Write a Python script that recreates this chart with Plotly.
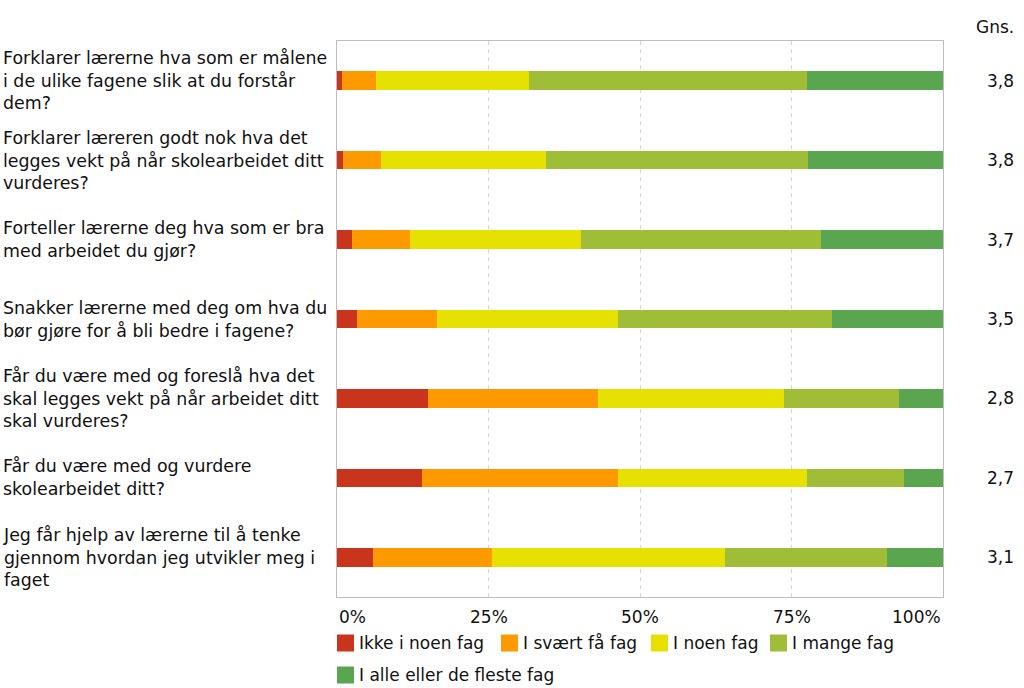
import plotly.graph_objects as go

questions = [
    "Forklarer lærerne hva som er målene<br>i de ulike fagene slik at du forstår<br>dem?",
    "Forklarer læreren godt nok hva det<br>legges vekt på når skolearbeidet ditt<br>vurderes?",
    "Forteller lærerne deg hva som er bra<br>med arbeidet du gjør?",
    "Snakker lærerne med deg om hva du<br>bør gjøre for å bli bedre i fagene?",
    "Får du være med og foreslå hva det<br>skal legges vekt på når arbeidet ditt<br>skal vurderes?",
    "Får du være med og vurdere<br>skolearbeidet ditt?",
    "Jeg får hjelp av lærerne til å tenke<br>gjennom hvordan jeg utvikler meg i<br>faget",
]
cat_ids = ["q1", "q2", "q3", "q4", "q5", "q6", "q7"]

ikke_i_noen = [0.8, 1.0, 2.4, 3.3, 15.0, 14.1, 6.0]
svaert_faa = [5.6, 6.3, 9.6, 13.2, 28.0, 32.3, 19.6]
i_noen = [25.3, 27.2, 28.3, 29.9, 30.8, 31.2, 38.4]
i_mange = [45.9, 43.3, 39.6, 35.2, 18.9, 16.0, 26.7]
i_alle = [22.4, 22.2, 20.1, 18.4, 7.3, 6.4, 9.3]
gns = ["3,8", "3,8", "3,7", "3,5", "2,8", "2,7", "3,1"]

series_names = ["Ikke i noen fag", "I svært få fag", "I noen fag", "I mange fag",
                "I alle eller de fleste fag"]
series_values = [ikke_i_noen, svaert_faa, i_noen, i_mange, i_alle]
series_colors = ["#C8341C", "#FF9900", "#E6E100", "#A0BD38", "#5AA550"]

x_ticks = [0, 25, 50, 75, 100]
x_tick_labels = ["0%", "25%", "50%", "75%", "100%"]

FONT = "DejaVu Sans, Verdana, sans-serif"
TXT = "#111111"
FS = 17

W, H = 1024, 688
ML, MR, MT, MB = 337, 81, 41, 91
PW, PH = W - ML - MR, H - MT - MB


def px_x(p):
    return (p - ML) / PW


def px_y(p):
    return (H - MB - p) / PH


fig = go.Figure()
for name, vals, col in zip(series_names, series_values, series_colors):
    fig.add_trace(go.Bar(
        y=cat_ids, x=vals, name=name, orientation="h",
        marker=dict(color=col, line=dict(width=0)), width=0.235,
        showlegend=False,
    ))

annotations = []
shapes = []
for cid, q in zip(cat_ids, questions):
    annotations.append(dict(
        xref="paper", yref="y", x=px_x(1), y=cid, text=q, showarrow=False,
        xanchor="left", yanchor="middle", align="left",
        font=dict(family=FONT, size=17.4, color=TXT),
    ))
for cid, g in zip(cat_ids, gns):
    annotations.append(dict(
        xref="paper", yref="y", x=px_x(1016), y=cid, text=g, showarrow=False,
        xanchor="right", yanchor="middle", align="right",
        font=dict(family=FONT, size=FS, color=TXT),
    ))
annotations.append(dict(
    xref="paper", yref="paper", x=px_x(1016), y=px_y(27), text="Gns.",
    showarrow=False, xanchor="right", yanchor="middle",
    font=dict(family=FONT, size=FS, color=TXT),
))
anchors = ["left", "center", "center", "center", "right"]
for xv, lab, anc in zip(x_ticks, x_tick_labels, anchors):
    annotations.append(dict(
        xref="x", yref="paper", x=xv, y=px_y(617), text=lab, showarrow=False,
        xanchor=anc, yanchor="middle",
        font=dict(family=FONT, size=FS, color=TXT),
    ))

# legend (swatch + label) laid out in two rows like the reference
leg_pos = [(337, 643), (501, 643), (651, 643), (770, 643), (337, 675)]
SW = 17
for name, col, (lx, ly) in zip(series_names, series_colors, leg_pos):
    shapes.append(dict(
        type="rect", xref="paper", yref="paper",
        x0=px_x(lx), x1=px_x(lx + SW), y0=px_y(ly + SW / 2), y1=px_y(ly - SW / 2),
        fillcolor=col, line=dict(width=0),
    ))
    annotations.append(dict(
        xref="paper", yref="paper", x=px_x(lx + SW + 3), y=px_y(ly), text=name,
        showarrow=False, xanchor="left", yanchor="middle",
        font=dict(family=FONT, size=FS, color=TXT),
    ))

fig.update_layout(
    width=W, height=H,
    margin=dict(l=ML, r=MR, t=MT, b=MB),
    barmode="stack",
    plot_bgcolor="white", paper_bgcolor="white",
    font=dict(family=FONT, size=FS, color=TXT),
    showlegend=False,
    xaxis=dict(range=[0, 100], tickvals=x_ticks, showticklabels=False,
               showgrid=True, gridcolor="#d4d4d4", griddash="4px,4px", gridwidth=1,
               zeroline=False, showline=True, linecolor="#bdbdbd", mirror=True,
               ticks=""),
    yaxis=dict(autorange="reversed", showticklabels=False, showgrid=False,
               showline=True, linecolor="#bdbdbd", mirror=True, ticks="",
               zeroline=False),
    annotations=annotations,
    shapes=shapes,
)

fig.write_html("out.html", config={"displayModeBar": False},
               post_script="document.body.style.margin='0';document.body.style.overflow='hidden';")
